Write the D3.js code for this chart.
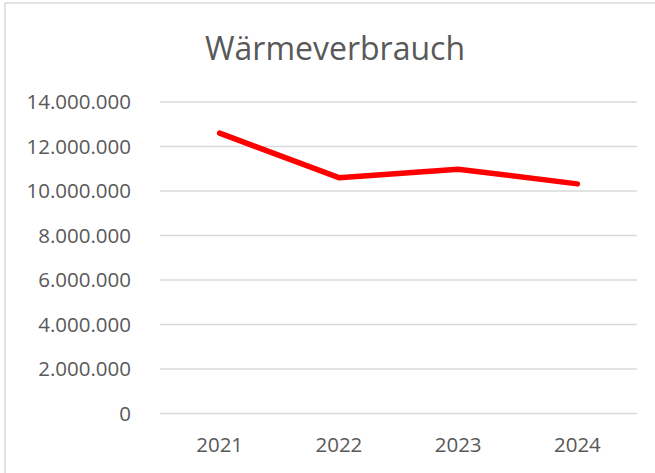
<!DOCTYPE html>
<html><head><meta charset="utf-8">
<script src="https://cdn.jsdelivr.net/npm/d3@7"></script>
<style>html,body{margin:0;padding:0;background:#fff;}svg{display:block;}</style>
</head><body>
<script>
const title = "Wärmeverbrauch";
const categories = ["2021", "2022", "2023", "2024"];
const values = [12600000, 10600000, 10980000, 10320000];
const yTicks = [0, 2000000, 4000000, 6000000, 8000000, 10000000, 12000000, 14000000];

const W = 655, H = 473;
const font = "'Open Sans', sans-serif";
const textColor = "#595959";
const svg = d3.select("body").append("svg").attr("width", W).attr("height", H);

// chart border
svg.append("rect").attr("x", 5).attr("y", 3).attr("width", 700).attr("height", 600)
  .attr("fill", "#fff").attr("stroke", "#d9d9d9").attr("stroke-width", 1.5);

const plot = {left: 160, right: 637, top: 102, bottom: 413.5};
const x = d3.scaleBand().domain(categories).range([plot.left, plot.right]);
const y = d3.scaleLinear().domain([0, 14000000]).range([plot.bottom, plot.top]);
const fmt = v => d3.format(",.0f")(v).replace(/,/g, ".");

// gridlines
svg.append("g").selectAll("line").data(yTicks).join("line")
  .attr("x1", plot.left).attr("x2", plot.right)
  .attr("y1", d => y(d)).attr("y2", d => y(d))
  .attr("stroke", "#d9d9d9").attr("stroke-width", 1.3);

// y axis labels
const yAxis = d3.axisLeft(y).tickValues(yTicks).tickFormat(fmt).tickSize(0).tickPadding(0);
const gy = svg.append("g").attr("transform", `translate(131,0)`).call(yAxis);
gy.select(".domain").remove();
gy.selectAll("text").attr("font-family", font).attr("font-size", 20.5).attr("fill", textColor);

// x axis labels
const xAxis = d3.axisBottom(x).tickSize(0).tickPadding(0);
const gx = svg.append("g").attr("transform", `translate(0,${plot.bottom})`).call(xAxis);
gx.select(".domain").remove();
gx.selectAll("text").attr("font-family", font).attr("font-size", 20.5).attr("fill", textColor)
  .attr("dy", null).attr("y", 38.5);

// line
const line = d3.line().x((d, i) => x(categories[i]) + x.bandwidth() / 2).y(d => y(d));
svg.append("path").datum(values).attr("d", line)
  .attr("fill", "none").attr("stroke", "#ff0000").attr("stroke-width", 5.5)
  .attr("stroke-linecap", "round").attr("stroke-linejoin", "round");

// title
svg.append("text").attr("x", 335).attr("y", 60).attr("text-anchor", "middle")
  .attr("font-family", font).attr("font-size", 32).attr("fill", textColor).text(title);
</script>
</body></html>
